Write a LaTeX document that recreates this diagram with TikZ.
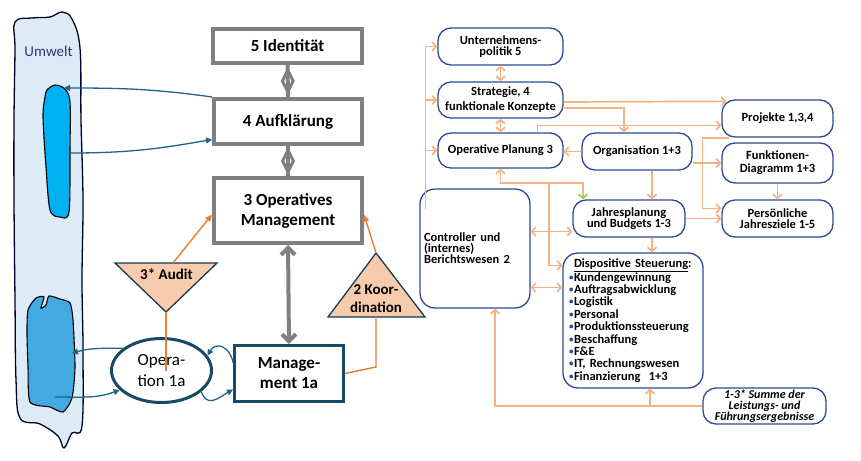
\documentclass[tikz,border=0pt]{standalone}
\usepackage{fontspec}
\setmainfont{Carlito}
\usetikzlibrary{arrows.meta,shapes.geometric,calc}

\definecolor{vsmgrey}{RGB}{128,128,128}
\definecolor{vsmteal}{RGB}{24,74,102}
\definecolor{vsmarrow}{RGB}{30,100,140}
\definecolor{vsmorange}{RGB}{237,125,49}
\definecolor{vsmpeach}{RGB}{248,203,173}
\definecolor{flowpeach}{RGB}{244,177,131}
\definecolor{flownavy}{RGB}{47,74,148}
\definecolor{flowgreen}{RGB}{146,208,80}
\definecolor{umwelt}{RGB}{221,235,247}
\definecolor{umweltink}{RGB}{40,55,120}
\definecolor{blobcyan}{RGB}{0,176,240}
\definecolor{blobblue}{RGB}{66,170,224}

\newcommand{\pkt}{\makebox[5pt][l]{\raisebox{1pt}{\color{flownavy}\fontsize{9}{9}\selectfont\textbullet}}}

\begin{document}
\begin{tikzpicture}[x=1pt,y=-1pt,
  greybox/.style={draw=vsmgrey,line width=4pt,fill=white,inner sep=0pt,align=center,font=\bfseries\fontsize{17}{20}\selectfont},
  diam/.style={diamond,draw=vsmgrey,line width=3pt,inner sep=0pt,minimum width=12pt,minimum height=23pt},
  greyln/.style={draw=vsmgrey,line width=4pt},
  greyarrow/.style={greyln,{Straight Barb[length=7pt,width=14pt]}-{Straight Barb[length=7pt,width=14pt]}},
  tealbox/.style={draw=vsmteal,line width=3pt,fill=white,inner sep=0pt,align=center,font=\bfseries\fontsize{17}{20}\selectfont},
  tealoval/.style={ellipse,draw=vsmteal,line width=3pt,fill=white,inner sep=0pt,align=center,font=\fontsize{17}{21}\selectfont},
  tealarrow/.style={draw=vsmarrow,line width=1.3pt,-{Triangle[length=6pt,width=6pt]}},
  tri/.style={draw=vsmteal!80!black,line width=1.3pt,fill=vsmpeach},
  tritext/.style={inner sep=0pt,align=center,font=\bfseries\fontsize{15}{18}\selectfont},
  orangeln/.style={draw=vsmorange,line width=1.4pt,-{Triangle[length=7pt,width=6pt]}},
  flowbox/.style={draw=flownavy,line width=1.3pt,fill=white,rounded corners=13pt,inner sep=0pt,align=center,font=\bfseries\fontsize{12.5}{11}\selectfont},
  flow/.style={draw=flowpeach,line width=1.7pt,-{Straight Barb[length=4pt,width=9pt]}},
  flowboth/.style={draw=flowpeach,line width=1.7pt,{Straight Barb[length=4pt,width=9pt]}-{Straight Barb[length=4pt,width=9pt]}}]
\useasboundingbox (0,0) rectangle (861,460);

% Umwelt
\filldraw[fill=umwelt,draw=black!85!blue,line width=1.3pt] plot[smooth cycle,tension=0.6] coordinates {(15,22) (32,18) (50,17) (62,12) (72,19) (80,48) (81,120) (83,200) (82,280) (83,350) (82,426) (72,433) (64,448) (58,436) (40,424) (20,418) (16,380) (15,300) (14,200) (14,120) (15,50)};
\filldraw[fill=blobcyan,draw=black,line width=1.1pt] plot[smooth cycle,tension=0.5] coordinates {(47,90) (55,85) (65,89) (70,102) (70,150) (69,212) (60,217) (50,210) (46,167) (43,117) (45,97)};
\filldraw[fill=blobblue,draw=black,line width=1.1pt] plot[smooth cycle,tension=0.4] coordinates {(28,310) (36,298) (44,297) (41,308) (46,305) (49,296) (60,299) (70,303) (73,320) (75,367) (72,398) (63,412) (50,407) (30,402) (28,367) (27,333)};
\node[text=umweltink,font=\fontsize{15}{18}\selectfont] (umweltlbl) at (48.5,51) {Umwelt};
\coordinate (blobAtop) at (64,88);
\coordinate (blobAright) at (71,153);
\coordinate (blobBright) at (72,353);
\coordinate (blobBin) at (55,397);

% Lenkungssystem
\node[greybox,minimum width=149pt,minimum height=34pt] (ident) at (287.5,46) {5 Identität};
\node[greybox,minimum width=148pt,minimum height=45pt] (aufk) at (288,121.5) {4 Aufklärung};
\node[greybox,minimum width=148pt,minimum height=65pt] (opm) at (288,210.5) {3 Operatives\\Management};
\node[tealbox,minimum width=109pt,minimum height=56pt] (mgmt) at (289,373.5) {Manage-\\ment 1a};
\node[tealoval,minimum width=100pt,minimum height=64pt] (oper) at (161.5,370.5) {Opera-\\tion 1a};

\draw[greyln] (ident.south) -- node[diam] {} (aufk.north);
\draw[greyln] (aufk.south) -- node[diam] {} (opm.north);
\draw[greyarrow] (opm.south) -- (mgmt.north);

% Audit und Koordination
\coordinate (audtop) at (173,263);
\coordinate (audtip) at (166,312);
\coordinate (kooapex) at (376,253);
\coordinate (koobase) at (376,317);
\filldraw[tri] (115,263) -- (217,263) -- (audtip) -- cycle;
\filldraw[tri] (328,317) -- (425,317) -- (kooapex) -- cycle;
\node[tritext] (audit) at (166.5,274) {3* Audit};
\node[tritext] (koord) at (376,299) {2 Koor-\\dination};

\draw[orangeln] (audtop) -- ([yshift=-4pt]opm.west);
\draw[orangeln,-] (audtip) -- (audtip |- oper.center);
\draw[orangeln] (kooapex) -- ([yshift=-4pt]opm.east);
\draw[orangeln,-] (koobase) -- ++(0,50) -- (mgmt.east);

\draw[tealarrow] (aufk.north west) to[out=172,in=0] (blobAtop);
\draw[tealarrow] (blobAright) to[out=0,in=190] ([yshift=-18pt]aufk.west);
\draw[tealarrow] (oper.150) to[out=180,in=15] (blobBright);
\draw[tealarrow] (blobBin) to[out=0,in=200] (oper.205);
\draw[tealarrow] ([yshift=11pt]mgmt.west) to[out=100,in=60,looseness=1.6] (oper.18);
\draw[tealarrow] (oper.-28) to[out=-70,in=-150,looseness=1.4] ([yshift=-16pt]mgmt.west);

% Steuerungsinstrumente
\node[flowbox,minimum width=125pt,minimum height=37pt] (upol) at (500.5,46.5) {Unternehmens-\\politik 5};
\node[flowbox,minimum width=125pt,minimum height=36pt] (strat) at (500.5,100) {Strategie, 4\\[4pt]funktionale Konzepte};
\node[flowbox,minimum width=125pt,minimum height=35pt] (oplan) at (500.5,150.5) {Operative Planung 3};
\node[flowbox,minimum width=110pt,minimum height=37pt] (org) at (637,151.5) {Organisation 1+3};
\node[flowbox,minimum width=111pt,minimum height=37pt] (proj) at (777.5,118.5) {Projekte 1,3,4};
\node[flowbox,minimum width=111pt,minimum height=40pt] (fkt) at (777.5,163) {Funktionen-\\[2pt]Diagramm 1+3};
\node[flowbox,minimum width=111pt,minimum height=37pt] (pers) at (777.5,218.5) {Persönliche\\Jahresziele 1-5};
\node[flowbox,minimum width=112pt,minimum height=37pt] (jp) at (629,218.5) {Jahresplanung\\und Budgets 1-3};
\node[flowbox,rounded corners=15pt,minimum width=110pt,minimum height=119pt,align=left,text width=102pt,font=\bfseries\fontsize{12.5}{11}\selectfont] (ctrl) at (475,248.5) {Controller und\\(internes)\\Berichtswesen 2};
\node[flowbox,rounded corners=15pt,minimum width=140pt,minimum height=135pt,align=left,text width=128pt,font=\bfseries\fontsize{12.5}{12.4}\selectfont] (disp) at (633,320.5) {\hspace*{5pt}\underline{Dispositive Steuerung}:\\
  \pkt Kundengewinnung\\ \pkt Auftragsabwicklung\\ \pkt Logistik\\ \pkt Personal\\
  \pkt Produktionssteuerung\\ \pkt Beschaffung\\ \pkt F\&E\\ \pkt IT, Rechnungswesen\\ \pkt Finanzierung~~1+3};
\node[flowbox,minimum width=123pt,minimum height=36pt,font=\bfseries\itshape\fontsize{12}{11}\selectfont] (summe) at (764.5,406) {1-3* Summe der\\Leistungs- und\\Führungsergebnisse};

\coordinate (trunk) at ($(ctrl.north west)+(6,21)$);
\coordinate (nj) at (549,183);
\coordinate (cj) at ($(jp.west)+(0,13)$);
\coordinate (cd) at ($(disp.west)+(0,-33)$);
\draw[flow] (trunk) |- (upol.west);
\draw[flow] (trunk) |- (strat.west);
\draw[flow] (trunk) |- (oplan.west);
\draw[flowboth] (upol.south) -- (strat.north);
\draw[flowboth] (strat.south) -- (oplan.north);
\draw[flow] ([yshift=-2pt]strat.east) -- ($(proj.north west)+(5,2)$);
\draw[flow] ([yshift=-8pt]strat.east) -| ([xshift=-13pt]org.north);
\draw[flow] ([xshift=37pt]oplan.north) |- ([yshift=-7pt]proj.west);
\draw[flow] (org.west) -- (org.west -| oplan.east);
\draw[flow] (org.east |- fkt.west) -- (fkt.west);
\draw[flow] ([xshift=15pt]org.south) -- ([xshift=15pt]org.south |- jp.north);
\draw[flow] ([xshift=8pt]proj.south west) -| ($(pers.west)+(-19,-10)$) -- ($(pers.west)+(0,-10)$);
\draw[flow] (fkt.south) -- (pers.north);
\draw[flow] (jp.east) -- (pers.west);
\draw[flow] ([xshift=23pt]jp.south) -- ([xshift=23pt]jp.south |- disp.north);
\draw[flow] (nj) -| (oplan.south);
\draw[flow,-{Straight Barb[length=4pt,width=9pt,color=flowgreen]}] (nj) -| ($(jp.north)+(-46,0)$);
\draw[flow] (nj) |- ($(disp.west)+(0,-55)$);
\draw[flowboth] (ctrl.east |- cj) -- (cj);
\draw[flowboth] (ctrl.east |- cd) -- (cd);
\draw[flow] (summe.west) -| ([xshift=20pt]ctrl.south);
\draw[flow] ([xshift=17pt]disp.south |- summe.west) -- ([xshift=17pt]disp.south);
\end{tikzpicture}
\end{document}
